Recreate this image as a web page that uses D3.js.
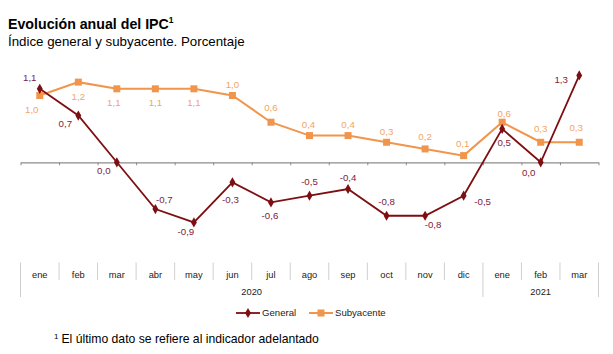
<!DOCTYPE html>
<html>
<head>
<meta charset="utf-8">
<script src="https://cdn.jsdelivr.net/npm/d3@7"></script>
<style>
  html, body { margin: 0; padding: 0; background: #fff; }
  svg { display: block; font-family: "Liberation Sans", Arial, sans-serif; }
</style>
</head>
<body>
<svg id="chart" width="613" height="354"></svg>
<script>
// ---- data ----
const months = ["ene","feb","mar","abr","may","jun","jul","ago","sep","oct","nov","dic","ene","feb","mar"];
const years = [{label: "2020", start: 0, end: 12}, {label: "2021", start: 12, end: 15}];
const general = [1.1, 0.7, 0.0, -0.7, -0.9, -0.3, -0.6, -0.5, -0.4, -0.8, -0.8, -0.5, 0.5, 0.0, 1.3];
const subyacente = [1.0, 1.2, 1.1, 1.1, 1.1, 1.0, 0.6, 0.4, 0.4, 0.3, 0.2, 0.1, 0.6, 0.3, 0.3];
// label placement offsets (dx, dy) from each point, in px
const generalLabelOffsets = [[-10,-11],[-13,8],[-13,8],[9,-10],[-8,9],[-2,17],[-1,13],[0,-14],[0,-12],[0,-14],[8,9],[19,6],[2,14],[-12,10],[-18,4]];
const subyacenteLabelOffsets = [[-8,14],[0,14],[-3,14],[0,14],[0,14],[0,-11],[0,-15],[-1,-11],[0,-11],[0,-11],[0,-12],[-1,-12],[2,-9],[0,-14],[-3,-15]];

const svg = d3.select("#chart");
const fmt = v => d3.format(".1f")(v).replace(".", ",").replace("−", "-");

// scales
const x = d3.scaleBand().domain(d3.range(months.length)).range([20.5, 598.5]).padding(0);
const xEdge = d3.scaleLinear().domain([0, months.length]).range([20.5, 598.5]);
const y = d3.scaleLinear().domain([-1.4, 1.5]).range([162.3 + 1.4 * 66.8, 162.3 - 1.5 * 66.8]);
const cx = i => x(i) + x.bandwidth() / 2;

// title
svg.append("text").attr("x", 8).attr("y", 29).attr("font-size", 14.2).attr("font-weight", "bold").attr("fill", "#000")
  .text("Evolución anual del IPC").append("tspan").attr("font-size", 8.5).attr("dy", -6).text("1");
svg.append("text").attr("x", 8).attr("y", 46).attr("font-size", 13.3).attr("fill", "#000")
  .text("Índice general y subyacente. Porcentaje");

// zero axis
const zeroAxis = d3.axisBottom(xEdge).tickValues(d3.range(months.length + 1)).tickSize(3).tickFormat("").tickSizeOuter(0);
const za = svg.append("g").attr("transform", `translate(0,${y(0)})`).call(zeroAxis);
za.select(".domain").attr("stroke", "#8c8c8c").attr("stroke-width", 1.2);
za.selectAll(".tick line").attr("stroke", "#8c8c8c");

// bottom category axis
const catG = svg.append("g");
const yearBounds = new Set(years.flatMap(d => [d.start, d.end]));
catG.selectAll("line.sep").data(d3.range(months.length + 1)).join("line")
  .attr("class", "sep")
  .attr("x1", d => xEdge(d)).attr("x2", d => xEdge(d))
  .attr("y1", 262.5).attr("y2", d => yearBounds.has(d) ? 297 : 280)
  .attr("stroke", "#cfcfcf").attr("stroke-width", 1);
catG.selectAll("text.m").data(months).join("text")
  .attr("class", "m").attr("x", (d, i) => cx(i)).attr("y", 277.5)
  .attr("text-anchor", "middle").attr("font-size", 9.3).attr("fill", "#222").text(d => d);
catG.selectAll("text.y").data(years).join("text")
  .attr("class", "y").attr("x", d => (xEdge(d.start) + xEdge(d.end)) / 2).attr("y", 295)
  .attr("text-anchor", "middle").attr("font-size", 9.3).attr("fill", "#222").text(d => d.label);

// lines
const line = d3.line().x((d, i) => cx(i)).y(d => y(d));
const colG = "#7d0f12", colS = "#f0954b";
const labG = "#82203a", labS = "#f3a562";

svg.append("path").datum(subyacente).attr("d", line).attr("fill", "none").attr("stroke", colS).attr("stroke-width", 2);
svg.selectAll("rect.s").data(subyacente).join("rect").attr("class", "s")
  .attr("x", (d, i) => cx(i) - 3.5).attr("y", d => y(d) - 3.5).attr("width", 7).attr("height", 7).attr("fill", colS);

svg.append("path").datum(general).attr("d", line).attr("fill", "none").attr("stroke", colG).attr("stroke-width", 1.8);
const diamond = d3.symbol().type(d3.symbolDiamond).size(30);
svg.selectAll("path.g").data(general).join("path").attr("class", "g")
  .attr("d", diamond).attr("transform", (d, i) => `translate(${cx(i)},${y(d)})`).attr("fill", colG);

// data labels
svg.selectAll("text.ls").data(subyacente).join("text").attr("class", "ls")
  .attr("x", (d, i) => cx(i) + subyacenteLabelOffsets[i][0])
  .attr("y", (d, i) => y(d) + subyacenteLabelOffsets[i][1] + 3.5)
  .attr("text-anchor", "middle").attr("font-size", 9.7).attr("fill", labS).text(d => fmt(d));
svg.selectAll("text.lg").data(general).join("text").attr("class", "lg")
  .attr("x", (d, i) => cx(i) + generalLabelOffsets[i][0])
  .attr("y", (d, i) => y(d) + generalLabelOffsets[i][1] + 3.5)
  .attr("text-anchor", "middle").attr("font-size", 9.7).attr("fill", labG).text(d => fmt(d));

// legend
const leg = svg.append("g").attr("transform", "translate(0,313)");
leg.append("line").attr("x1", 236).attr("x2", 260).attr("y1", 0).attr("y2", 0).attr("stroke", colG).attr("stroke-width", 1.8);
leg.append("path").attr("d", diamond).attr("transform", "translate(248,0)").attr("fill", colG);
leg.append("text").attr("x", 262).attr("y", 3.4).attr("font-size", 9.6).attr("fill", "#222").text("General");
leg.append("line").attr("x1", 309).attr("x2", 333).attr("y1", 0).attr("y2", 0).attr("stroke", colS).attr("stroke-width", 2);
leg.append("rect").attr("x", 317.5).attr("y", -3.5).attr("width", 7).attr("height", 7).attr("fill", colS);
leg.append("text").attr("x", 335).attr("y", 3.4).attr("font-size", 9.6).attr("fill", "#222").text("Subyacente");

// footnote
const fn = svg.append("text").attr("x", 54).attr("y", 343).attr("font-size", 12.2).attr("fill", "#000");
fn.append("tspan").attr("font-size", 8).attr("dy", -4).text("1");
fn.append("tspan").attr("dx", 3).attr("dy", 4).text("El último dato se refiere al indicador adelantado");
</script>
</body>
</html>
